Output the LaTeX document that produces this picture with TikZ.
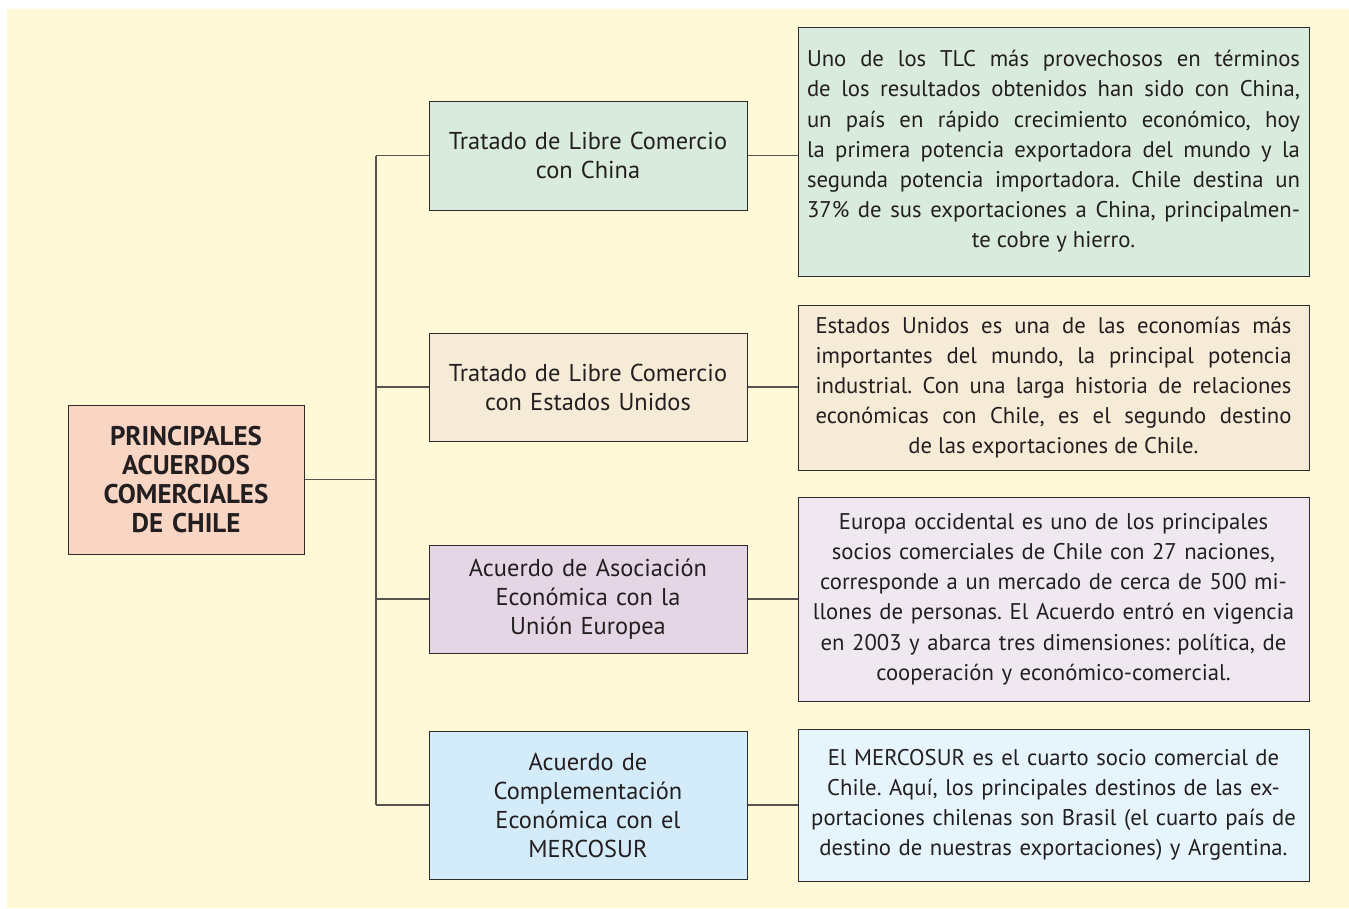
\documentclass[tikz,border=0pt]{standalone}
\usepackage{fontspec}
\setmainfont{PT Sans}

\definecolor{fondo}{HTML}{FFF9D7}
\definecolor{salmon}{HTML}{F9D5C4}
\definecolor{verde}{HTML}{D9EBDC}
\definecolor{crema}{HTML}{F6EBD6}
\definecolor{lila}{HTML}{E5D6E6}
\definecolor{lilaclaro}{HTML}{F0E8F1}
\definecolor{celeste}{HTML}{D4ECF9}
\definecolor{celesteclaro}{HTML}{E6F5FC}
\definecolor{texto}{HTML}{231F20}
\definecolor{borde}{HTML}{2E2B2C}
\definecolor{linea}{HTML}{55524F}

% justificado con la ultima linea centrada
\newcommand{\ultimacentrada}{\leftskip=0pt plus 1fil\rightskip=0pt plus -1fil\parfillskip=0pt plus 2fil\tolerance=10000\hyphenpenalty=10000}

\tikzset{
    caja/.style={draw=borde, line width=1pt, text=texto, inner sep=0pt},
    principal/.style={caja, fill=salmon, minimum width=236pt, minimum height=149pt, text width=220pt, align=center, font=\fontsize{27}{29}\selectfont\bfseries},
    tratado/.style={caja, minimum width=318pt, text width=300pt, align=center, font=\fontsize{24.4}{29}\selectfont},
    detalle/.style={caja, minimum width=511pt, text width=493pt, font=\fontsize{22.7}{30.2}\selectfont\frenchspacing},
    justo/.style={detalle, align=justify, execute at begin node=\ultimacentrada},
    centro/.style={detalle, align=center},
    rama/.style={draw=linea, line width=1.1pt}
}

\begin{document}
\begin{tikzpicture}[x=1pt, y=-1pt]
    % Fondo amarillo
    \useasboundingbox (0,0) rectangle (1349,908);
    \fill[fondo] (7,9) rectangle (1349,908);

    % 1. Nodo principal
    \node[principal] (acuerdos) at (186,479.5) {PRINCIPALES\\ACUERDOS\\COMERCIALES\\DE CHILE};

    % 2. Tratados y acuerdos
    \node[tratado, fill=verde, minimum height=109pt] (china) at (588,155.5) {Tratado de Libre Comercio\\con China};
    \node[tratado, fill=crema, minimum height=108pt] (eeuu) at (588,387) {Tratado de Libre Comercio\\con Estados Unidos};
    \node[tratado, fill=lila, minimum height=108pt] (ue) at (588,599) {Acuerdo de Asociación\\Económica con la\\Unión Europea};
    \node[tratado, fill=celeste, minimum height=148pt] (mercosur) at (588,805) {Acuerdo de\\Complementación\\Económica con el\\MERCOSUR};

    % 3. Descripciones
    \node[justo, fill=verde, minimum height=249pt] (china-txt) at (1053.5,151.5) {Uno de los TLC más provechosos en términos\linebreak de los resultados obtenidos han sido con China,\linebreak un país en rápido crecimiento económico, hoy\linebreak la primera potencia exportadora del mundo y la\linebreak segunda potencia importadora. Chile destina un\linebreak 37\% de sus exportaciones a China, principalmen-\linebreak te cobre y hierro.};
    \node[justo, fill=crema, minimum height=165pt, text width=476pt] (eeuu-txt) at (1053.5,387.5) {Estados Unidos es una de las economías más\linebreak importantes del mundo, la principal potencia\linebreak industrial. Con una larga historia de relaciones\linebreak económicas con Chile, es el segundo destino\linebreak de las exportaciones de Chile.};
    \node[centro, fill=lilaclaro, minimum height=204pt] (ue-txt) at (1053.5,599) {Europa occidental es uno de los principales\\socios comerciales de Chile con 27 naciones,\\corresponde a un mercado de cerca de 500 mi-\\llones de personas. El Acuerdo entró en vigencia\\en 2003 y abarca tres dimensiones: política, de\\cooperación y económico-comercial.};
    \node[centro, fill=celesteclaro, minimum height=152pt] (mercosur-txt) at (1053.5,805) {El MERCOSUR es el cuarto socio comercial de\\Chile. Aquí, los principales destinos de las ex-\\portaciones chilenas son Brasil (el cuarto país de\\destino de nuestras exportaciones) y Argentina.};

    % 4. Conexiones
    \coordinate (tronco) at (376,0);
    \draw[rama] (acuerdos.east) -- (acuerdos.east -| tronco);
    \draw[rama] (china.west -| tronco) -- (mercosur.west -| tronco);
    \foreach \t in {china, eeuu, ue, mercosur}
        \draw[rama] (\t.west -| tronco) -- (\t.west) (\t.east) -- (\t.east -| \t-txt.west);

\end{tikzpicture}
\end{document}
